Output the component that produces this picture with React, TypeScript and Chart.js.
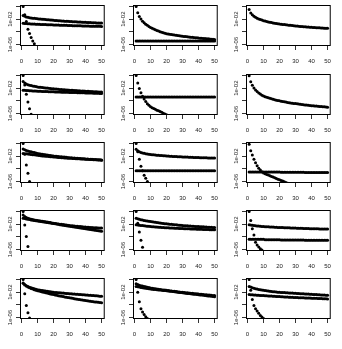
import { useEffect, useRef } from "react";
import { Chart, registerables } from "chart.js";

Chart.register(...registerables);

// Lag index shared by every series
const steps = [
  1, 2, 3, 4, 5, 6, 7, 8, 9, 10,
  11, 12, 13, 14, 15, 16, 17, 18, 19, 20,
  21, 22, 23, 24, 25, 26, 27, 28, 29, 30,
  31, 32, 33, 34, 35, 36, 37, 38, 39, 40,
  41, 42, 43, 44, 45, 46, 47, 48, 49, 50,
];

const xTickValues = [0, 10, 20, 30, 40, 50];
const yTickValues = [1e-6, 1e-4, 1e-2, 1];
const yTickLabels: Record<string, string> = { "-2": "1e-02", "-6": "1e-06" };

// Series values, stored as base-10 exponents (point value = 10^v)
const p11Fast = [0, -1.3, -2.35, -3.6, -4.28, -4.9, -5.43, -5.9, -6.35];
const p11Hi = [
  -1.4, -1.55, -1.64, -1.71, -1.76, -1.8, -1.84, -1.87, -1.9, -1.93,
  -1.96, -1.98, -2.01, -2.03, -2.06, -2.08, -2.1, -2.13, -2.15, -2.17,
  -2.19, -2.21, -2.23, -2.25, -2.27, -2.29, -2.31, -2.32, -2.34, -2.36,
  -2.37, -2.39, -2.4, -2.42, -2.43, -2.45, -2.46, -2.48, -2.49, -2.5,
  -2.52, -2.53, -2.54, -2.55, -2.57, -2.58, -2.59, -2.6, -2.61, -2.62,
];
const p11Lo = [
  -2.65, -2.68, -2.7, -2.72, -2.74, -2.75, -2.77, -2.78, -2.79, -2.8,
  -2.82, -2.83, -2.84, -2.85, -2.86, -2.87, -2.88, -2.89, -2.9, -2.91,
  -2.92, -2.93, -2.94, -2.95, -2.96, -2.97, -2.98, -2.98, -2.99, -3.0,
  -3.01, -3.02, -3.02, -3.03, -3.04, -3.05, -3.05, -3.06, -3.07, -3.08,
  -3.08, -3.09, -3.1, -3.1, -3.11, -3.12, -3.12, -3.13, -3.13, -3.14,
];

const p12Fast = [
  0, -0.99, -1.57, -1.99, -2.31, -2.57, -2.79, -2.98, -3.15, -3.3,
  -3.44, -3.56, -3.68, -3.78, -3.88, -3.97, -4.06, -4.14, -4.22, -4.29,
  -4.34, -4.38, -4.43, -4.47, -4.51, -4.55, -4.59, -4.62, -4.66, -4.69,
  -4.72, -4.75, -4.79, -4.81, -4.84, -4.87, -4.9, -4.92, -4.95, -4.98,
  -5.0, -5.02, -5.05, -5.07, -5.09, -5.11, -5.14, -5.16, -5.18, -5.2,
];
const p12Flat = [
  -5.45, -5.45, -5.45, -5.45, -5.45, -5.45, -5.45, -5.45, -5.45, -5.45,
  -5.45, -5.45, -5.45, -5.45, -5.45, -5.45, -5.45, -5.45, -5.45, -5.45,
  -5.45, -5.45, -5.45, -5.45, -5.45, -5.45, -5.45, -5.45, -5.45, -5.45,
  -5.45, -5.45, -5.45, -5.45, -5.45, -5.45, -5.45, -5.45, -5.45, -5.45,
  -5.45, -5.45, -5.45, -5.45, -5.45, -5.45, -5.45, -5.45, -5.45, -5.45,
];

const p13Curve = [
  -0.48, -1.01, -1.31, -1.53, -1.7, -1.84, -1.96, -2.06, -2.15, -2.23,
  -2.3, -2.37, -2.43, -2.49, -2.54, -2.59, -2.63, -2.68, -2.72, -2.76,
  -2.79, -2.83, -2.86, -2.9, -2.93, -2.96, -2.98, -3.01, -3.04, -3.06,
  -3.09, -3.11, -3.14, -3.16, -3.18, -3.2, -3.22, -3.25, -3.26, -3.28,
  -3.3, -3.32, -3.34, -3.36, -3.37, -3.39, -3.41, -3.42, -3.44, -3.45,
];

const p21Fast = [0, -1.5, -2.95, -4.2, -5.24, -6.12];
const p21Hi = [
  -0.95, -1.18, -1.33, -1.44, -1.52, -1.59, -1.65, -1.7, -1.75, -1.8,
  -1.84, -1.87, -1.9, -1.93, -1.96, -1.99, -2.02, -2.05, -2.08, -2.11,
  -2.13, -2.15, -2.17, -2.19, -2.21, -2.23, -2.25, -2.27, -2.29, -2.31,
  -2.33, -2.34, -2.36, -2.38, -2.39, -2.41, -2.43, -2.44, -2.46, -2.47,
  -2.49, -2.5, -2.52, -2.53, -2.55, -2.56, -2.58, -2.59, -2.61, -2.62,
];
const p21Lo = [
  -2.32, -2.34, -2.36, -2.38, -2.4, -2.41, -2.43, -2.44, -2.46, -2.47,
  -2.48, -2.5, -2.51, -2.52, -2.53, -2.54, -2.55, -2.56, -2.57, -2.58,
  -2.59, -2.6, -2.61, -2.62, -2.63, -2.64, -2.65, -2.66, -2.66, -2.67,
  -2.68, -2.69, -2.7, -2.7, -2.71, -2.72, -2.73, -2.74, -2.74, -2.75,
  -2.76, -2.77, -2.78, -2.78, -2.79, -2.8, -2.81, -2.82, -2.83, -2.84,
];

const p22Fast = [
  0, -1.18, -2.05, -2.74, -3.26, -3.7, -4.1, -4.45, -4.7, -4.93,
  -5.08, -5.22, -5.35, -5.47, -5.58, -5.7, -5.82, -5.95, -6.08, -6.22,
  -6.36,
];
const p22Flat = [
  -3.4, -3.4, -3.4, -3.4, -3.4, -3.4, -3.4, -3.4, -3.4, -3.4,
  -3.4, -3.4, -3.4, -3.4, -3.4, -3.4, -3.4, -3.4, -3.4, -3.4,
  -3.4, -3.4, -3.4, -3.4, -3.4, -3.4, -3.4, -3.4, -3.4, -3.4,
  -3.4, -3.4, -3.4, -3.4, -3.4, -3.4, -3.4, -3.4, -3.4, -3.4,
  -3.4, -3.4, -3.4, -3.4, -3.4, -3.4, -3.4, -3.4, -3.4, -3.4,
];

const p23Curve = [
  -0.05, -0.98, -1.55, -1.96, -2.27, -2.53, -2.75, -2.93, -3.1, -3.25,
  -3.35, -3.45, -3.53, -3.61, -3.69, -3.76, -3.83, -3.89, -3.95, -4.0,
  -4.05, -4.1, -4.15, -4.2, -4.25, -4.29, -4.33, -4.37, -4.41, -4.44,
  -4.48, -4.51, -4.55, -4.58, -4.61, -4.64, -4.67, -4.7, -4.73, -4.76,
  -4.78, -4.81, -4.83, -4.86, -4.88, -4.91, -4.93, -4.95, -4.98, -5.0,
];

const p31Fast = [0, -1.7, -3.39, -4.68, -5.99];
const p31Hi = [
  -0.85, -1.0, -1.1, -1.19, -1.26, -1.32, -1.38, -1.43, -1.5, -1.56,
  -1.6, -1.64, -1.68, -1.72, -1.76, -1.8, -1.84, -1.88, -1.93, -1.98,
  -2.0, -2.03, -2.05, -2.08, -2.1, -2.13, -2.15, -2.18, -2.21, -2.24,
  -2.26, -2.28, -2.3, -2.32, -2.34, -2.36, -2.38, -2.4, -2.42, -2.44,
  -2.45, -2.47, -2.49, -2.5, -2.52, -2.54, -2.55, -2.57, -2.58, -2.6,
];
const p31Lo = [
  -1.56, -1.6, -1.63, -1.66, -1.69, -1.72, -1.76, -1.79, -1.83, -1.87,
  -1.9, -1.93, -1.96, -1.98, -2.01, -2.03, -2.06, -2.08, -2.1, -2.13,
  -2.15, -2.17, -2.19, -2.21, -2.23, -2.25, -2.27, -2.29, -2.31, -2.33,
  -2.34, -2.36, -2.37, -2.39, -2.4, -2.42, -2.43, -2.45, -2.46, -2.48,
  -2.49, -2.5, -2.52, -2.53, -2.55, -2.56, -2.58, -2.59, -2.61, -2.63,
];

const p32Fast = [0, -1.3, -2.5, -3.6, -4.3, -5.0, -5.5, -6.0, -6.4];
const p32Hi = [
  -0.9, -1.15, -1.29, -1.4, -1.48, -1.54, -1.6, -1.64, -1.69, -1.72,
  -1.76, -1.79, -1.82, -1.85, -1.87, -1.89, -1.91, -1.93, -1.95, -1.97,
  -1.99, -2.01, -2.02, -2.04, -2.05, -2.07, -2.08, -2.09, -2.11, -2.12,
  -2.13, -2.14, -2.15, -2.16, -2.17, -2.18, -2.19, -2.2, -2.21, -2.22,
  -2.23, -2.24, -2.25, -2.25, -2.26, -2.27, -2.28, -2.29, -2.29, -2.3,
];
const p32Flat = [
  -4.3, -4.3, -4.3, -4.3, -4.3, -4.3, -4.3, -4.3, -4.3, -4.3,
  -4.3, -4.3, -4.3, -4.3, -4.3, -4.3, -4.3, -4.3, -4.3, -4.3,
  -4.3, -4.3, -4.3, -4.3, -4.3, -4.3, -4.3, -4.3, -4.3, -4.3,
  -4.3, -4.3, -4.3, -4.3, -4.3, -4.3, -4.3, -4.3, -4.3, -4.3,
  -4.3, -4.3, -4.3, -4.3, -4.3, -4.3, -4.3, -4.3, -4.3, -4.3,
];

const p33Fast = [
  -0.1, -1.15, -1.82, -2.49, -3.03, -3.5, -3.9, -4.2, -4.45, -4.65,
  -4.77, -4.88, -4.99, -5.1, -5.21, -5.31, -5.42, -5.52, -5.63, -5.73,
  -5.84, -5.94, -6.05, -6.15, -6.26,
];
const p33Flat = [
  -4.5, -4.5, -4.5, -4.5, -4.5, -4.5, -4.5, -4.5, -4.5, -4.5,
  -4.52, -4.52, -4.52, -4.52, -4.52, -4.52, -4.52, -4.52, -4.52, -4.52,
  -4.55, -4.55, -4.55, -4.55, -4.55, -4.55, -4.55, -4.55, -4.55, -4.55,
  -4.55, -4.55, -4.55, -4.55, -4.55, -4.58, -4.58, -4.58, -4.58, -4.58,
  -4.58, -4.58, -4.58, -4.58, -4.58, -4.58, -4.58, -4.58, -4.58, -4.58,
];

const p41Fast = [0, -2.15, -3.93, -5.54];
const p41Hi = [
  -0.55, -0.8, -0.95, -1.06, -1.15, -1.22, -1.28, -1.33, -1.38, -1.43,
  -1.47, -1.51, -1.55, -1.59, -1.63, -1.67, -1.71, -1.75, -1.8, -1.84,
  -1.88, -1.92, -1.96, -2.0, -2.03, -2.07, -2.1, -2.14, -2.17, -2.2,
  -2.23, -2.26, -2.28, -2.31, -2.33, -2.36, -2.38, -2.4, -2.43, -2.45,
  -2.47, -2.49, -2.51, -2.53, -2.55, -2.56, -2.58, -2.59, -2.61, -2.62,
];
const p41Lo = [
  -1.05, -1.12, -1.18, -1.23, -1.28, -1.33, -1.37, -1.41, -1.45, -1.49,
  -1.53, -1.57, -1.61, -1.65, -1.69, -1.73, -1.77, -1.81, -1.86, -1.9,
  -1.95, -1.99, -2.03, -2.08, -2.12, -2.16, -2.2, -2.25, -2.29, -2.33,
  -2.37, -2.41, -2.45, -2.49, -2.53, -2.57, -2.61, -2.65, -2.69, -2.73,
  -2.77, -2.81, -2.85, -2.88, -2.92, -2.96, -3.0, -3.04, -3.07, -3.11,
];

const p42Fast = [0, -1.84, -3.24, -4.56, -5.65];
const p42Hi = [
  -1.06, -1.15, -1.22, -1.29, -1.35, -1.41, -1.46, -1.5, -1.55, -1.59,
  -1.63, -1.67, -1.71, -1.74, -1.78, -1.81, -1.85, -1.88, -1.92, -1.95,
  -1.98, -2.0, -2.03, -2.06, -2.08, -2.11, -2.13, -2.16, -2.18, -2.21,
  -2.23, -2.24, -2.26, -2.28, -2.3, -2.31, -2.33, -2.35, -2.36, -2.38,
  -2.39, -2.41, -2.42, -2.44, -2.45, -2.47, -2.48, -2.5, -2.51, -2.53,
];
const p42Lo = [
  -2.1, -2.13, -2.16, -2.19, -2.22, -2.25, -2.28, -2.31, -2.34, -2.37,
  -2.39, -2.41, -2.43, -2.45, -2.47, -2.49, -2.51, -2.53, -2.55, -2.57,
  -2.58, -2.59, -2.61, -2.62, -2.63, -2.65, -2.66, -2.67, -2.69, -2.7,
  -2.71, -2.72, -2.73, -2.74, -2.75, -2.76, -2.77, -2.78, -2.79, -2.8,
  -2.81, -2.82, -2.83, -2.84, -2.85, -2.86, -2.87, -2.87, -2.88, -2.89,
];

const p43Fast = [0, -1.43, -2.73, -3.7, -4.85, -5.3, -5.62, -5.9, -6.1, -6.3];
const p43Hi = [
  -2.1, -2.15, -2.18, -2.21, -2.24, -2.27, -2.3, -2.32, -2.35, -2.37,
  -2.39, -2.4, -2.42, -2.43, -2.45, -2.46, -2.48, -2.49, -2.51, -2.52,
  -2.53, -2.54, -2.55, -2.56, -2.57, -2.58, -2.59, -2.6, -2.61, -2.62,
  -2.63, -2.64, -2.65, -2.66, -2.67, -2.68, -2.69, -2.7, -2.71, -2.72,
  -2.72, -2.73, -2.74, -2.74, -2.75, -2.76, -2.76, -2.77, -2.77, -2.78,
];
const p43Lo = [
  -4.4, -4.4, -4.4, -4.4, -4.4, -4.4, -4.4, -4.4, -4.4, -4.4,
  -4.45, -4.45, -4.45, -4.45, -4.45, -4.45, -4.45, -4.45, -4.45, -4.45,
  -4.5, -4.5, -4.5, -4.5, -4.5, -4.5, -4.5, -4.5, -4.5, -4.5,
  -4.5, -4.5, -4.5, -4.5, -4.5, -4.55, -4.55, -4.55, -4.55, -4.55,
  -4.55, -4.55, -4.55, -4.55, -4.55, -4.55, -4.55, -4.55, -4.55, -4.55,
];

const p51Fast = [0, -2.23, -4.1, -5.24, -6.09];
const p51Hi = [
  -0.56, -0.8, -0.97, -1.1, -1.21, -1.3, -1.38, -1.46, -1.53, -1.6,
  -1.65, -1.7, -1.75, -1.79, -1.83, -1.87, -1.91, -1.95, -1.99, -2.03,
  -2.05, -2.07, -2.09, -2.11, -2.13, -2.15, -2.17, -2.19, -2.21, -2.23,
  -2.25, -2.27, -2.29, -2.31, -2.33, -2.35, -2.37, -2.39, -2.41, -2.43,
  -2.45, -2.47, -2.49, -2.52, -2.54, -2.56, -2.58, -2.6, -2.63, -2.65,
];
const p51Lo = [
  -0.6, -0.86, -1.04, -1.18, -1.3, -1.41, -1.51, -1.6, -1.68, -1.76,
  -1.83, -1.9, -1.97, -2.03, -2.09, -2.15, -2.21, -2.27, -2.33, -2.38,
  -2.44, -2.49, -2.55, -2.6, -2.65, -2.7, -2.75, -2.8, -2.85, -2.9,
  -2.94, -2.98, -3.03, -3.07, -3.11, -3.15, -3.2, -3.24, -3.28, -3.32,
  -3.36, -3.39, -3.43, -3.47, -3.5, -3.54, -3.57, -3.61, -3.64, -3.68,
];

const p52Fast = [0, -2.03, -3.53, -4.62, -5.15, -5.51, -5.87, -6.18];
const p52Hi = [
  -0.67, -0.8, -0.89, -0.97, -1.04, -1.1, -1.16, -1.22, -1.28, -1.34,
  -1.38, -1.42, -1.46, -1.5, -1.53, -1.57, -1.6, -1.64, -1.67, -1.71,
  -1.74, -1.78, -1.81, -1.84, -1.87, -1.9, -1.94, -1.97, -2.0, -2.03,
  -2.06, -2.08, -2.11, -2.13, -2.16, -2.18, -2.21, -2.23, -2.26, -2.28,
  -2.31, -2.33, -2.36, -2.39, -2.41, -2.44, -2.46, -2.49, -2.51, -2.54,
];
const p52Lo = [
  -1.09, -1.15, -1.2, -1.25, -1.3, -1.34, -1.38, -1.42, -1.46, -1.5,
  -1.53, -1.56, -1.59, -1.62, -1.65, -1.67, -1.7, -1.72, -1.74, -1.77,
  -1.8, -1.84, -1.87, -1.91, -1.94, -1.97, -2.01, -2.04, -2.07, -2.1,
  -2.13, -2.16, -2.19, -2.22, -2.25, -2.28, -2.31, -2.34, -2.37, -2.4,
  -2.43, -2.46, -2.49, -2.53, -2.56, -2.59, -2.62, -2.65, -2.69, -2.72,
];

const p53Fast = [0, -1.71, -3.17, -4.1, -4.62, -4.99, -5.35, -5.67, -5.93, -6.18];
const p53Hi = [
  -1.09, -1.2, -1.29, -1.37, -1.44, -1.5, -1.56, -1.61, -1.66, -1.71,
  -1.75, -1.79, -1.83, -1.86, -1.89, -1.92, -1.95, -1.98, -2.0, -2.03,
  -2.04, -2.06, -2.07, -2.09, -2.1, -2.12, -2.13, -2.15, -2.16, -2.18,
  -2.2, -2.21, -2.23, -2.24, -2.26, -2.27, -2.29, -2.3, -2.32, -2.33,
  -2.35, -2.36, -2.38, -2.4, -2.41, -2.43, -2.44, -2.46, -2.47, -2.49,
];
const p53Lo = [
  -2.38, -2.4, -2.42, -2.44, -2.46, -2.48, -2.5, -2.51, -2.53, -2.54,
  -2.56, -2.58, -2.59, -2.61, -2.62, -2.64, -2.66, -2.67, -2.69, -2.7,
  -2.72, -2.73, -2.75, -2.76, -2.78, -2.79, -2.8, -2.82, -2.83, -2.85,
  -2.86, -2.87, -2.88, -2.89, -2.9, -2.91, -2.92, -2.93, -2.94, -2.95,
  -2.96, -2.97, -2.98, -2.99, -3.0, -3.01, -3.02, -3.03, -3.05, -3.06,
];

// Panels in reading order (row by row, three per row)
const panelSeries: number[][][] = [
  [p11Fast, p11Hi, p11Lo], [p12Fast, p12Flat], [p13Curve],
  [p21Fast, p21Hi, p21Lo], [p22Fast, p22Flat], [p23Curve],
  [p31Fast, p31Hi, p31Lo], [p32Fast, p32Hi, p32Flat], [p33Fast, p33Flat],
  [p41Fast, p41Hi, p41Lo], [p42Fast, p42Hi, p42Lo], [p43Fast, p43Hi, p43Lo],
  [p51Fast, p51Hi, p51Lo], [p52Fast, p52Hi, p52Lo], [p53Fast, p53Hi, p53Lo],
];

// Grid geometry (CSS px)
const CANVAS_W = 113;
const CANVAS_H = 68;
const COL_LEFT = [0, 113, 226];
const ROW_TOP = [0, 68, 136, 205, 273];
const PLOT_TOP = [5, 6, 6, 5, 5];
const PLOT_H = 41;
const PLOT_W = 91;
const Y_AXIS_W = 20;
const FONT = { family: "'Liberation Sans', Arial, sans-serif", size: 6 };
const TEXT_COLOR = "#222";

const framePlugin = {
  id: "frame",
  afterDatasetsDraw(chart: Chart) {
    const { ctx, chartArea: a } = chart;
    ctx.save();
    ctx.strokeStyle = "#000";
    ctx.lineWidth = 1;
    ctx.strokeRect(a.left + 0.5, a.top + 0.5, a.right - a.left - 1, a.bottom - a.top - 1);
    ctx.restore();
  },
};

function Panel({ series, row, col }: { series: number[][]; row: number; col: number }) {
  const ref = useRef<HTMLCanvasElement | null>(null);

  useEffect(() => {
    const canvas = ref.current;
    if (!canvas) return;
    const padTop = PLOT_TOP[row];
    const chart = new Chart(canvas, {
      type: "scatter",
      data: {
        datasets: series.map((s) => ({
          data: s.map((v, i) => ({ x: steps[i], y: Math.pow(10, v) })),
          pointRadius: 1.5,
          pointHoverRadius: 1.5,
          pointBackgroundColor: "#000",
          pointBorderWidth: 0,
          showLine: false,
          clip: 0,
        })),
      },
      options: {
        animation: false,
        responsive: false,
        devicePixelRatio: 1,
        events: [],
        layout: { padding: { top: padTop, right: CANVAS_W - Y_AXIS_W - PLOT_W, left: 0, bottom: 0 } },
        plugins: { legend: { display: false }, tooltip: { enabled: false } },
        scales: {
          x: {
            type: "linear",
            min: -0.96,
            max: 51.96,
            afterBuildTicks: (scale: any) => {
              scale.ticks = xTickValues.map((value) => ({ value }));
            },
            afterFit: (scale: any) => {
              scale.height = CANVAS_H - padTop - PLOT_H;
            },
            border: { display: false },
            grid: { drawOnChartArea: false, tickLength: 4, color: "#000", lineWidth: 0.8 },
            ticks: {
              font: FONT,
              color: TEXT_COLOR,
              padding: 8,
              maxRotation: 0,
              minRotation: 0,
              autoSkip: false,
              callback: (v: any) => String(v),
            },
          },
          y: {
            type: "logarithmic",
            min: Math.pow(10, -6.24),
            max: Math.pow(10, 0.24),
            afterBuildTicks: (scale: any) => {
              scale.ticks = yTickValues.map((value) => ({ value }));
            },
            afterFit: (scale: any) => {
              scale.width = Y_AXIS_W;
            },
            border: { display: false },
            grid: { drawOnChartArea: false, tickLength: 4, color: "#000", lineWidth: 0.8 },
            ticks: {
              font: FONT,
              color: TEXT_COLOR,
              minRotation: 90,
              maxRotation: 90,
              crossAlign: "center",
              padding: -1.7,
              autoSkip: false,
              callback: (v: any) => yTickLabels[String(Math.round(Math.log10(Number(v))))] ?? "",
            },
          },
        },
      },
      plugins: [framePlugin],
    } as any);
    return () => chart.destroy();
  }, [series, row, col]);

  return (
    <canvas
      ref={ref}
      width={CANVAS_W}
      height={CANVAS_H}
      style={{
        position: "absolute",
        left: COL_LEFT[col],
        top: ROW_TOP[row],
        width: CANVAS_W,
        height: CANVAS_H,
      }}
    />
  );
}

export default function App() {
  return (
    <div
      style={{
        position: "fixed",
        left: 0,
        top: 0,
        width: 342,
        height: 349,
        background: "#fff",
        overflow: "hidden",
      }}
    >
      {panelSeries.map((series, i) => (
        <Panel key={i} series={series} row={Math.floor(i / 3)} col={i % 3} />
      ))}
    </div>
  );
}
